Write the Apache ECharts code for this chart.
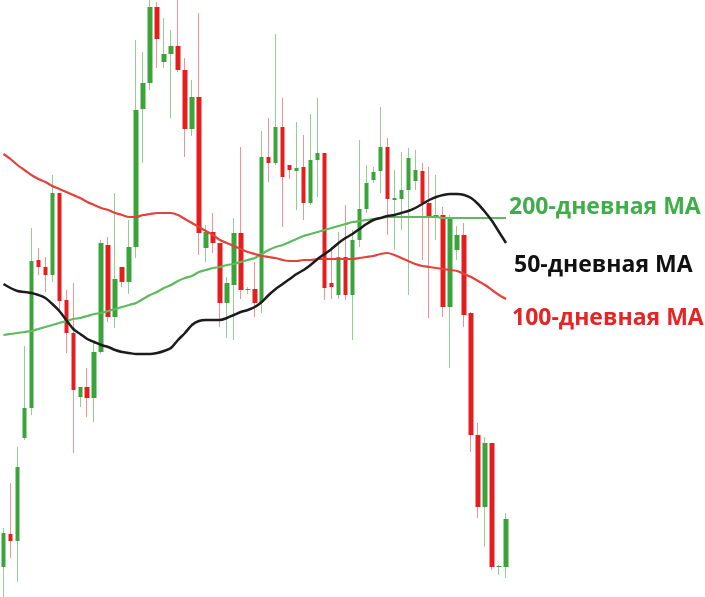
<!DOCTYPE html>
<html>
<head>
<meta charset="utf-8">
<script src="https://cdn.jsdelivr.net/npm/echarts@6/dist/echarts.min.js"></script>
<style>
html,body{margin:0;padding:0;background:#fff;}
#chart{width:705px;height:597px;}
</style>
</head>
<body>
<div id="chart"></div>
<script>
// Daily candles (price units), index = trading day
const openP  = [33,66,59,162,192,340,333,325,407,300,267,203,213,202,248,355,283,333,318,353,491,517,593,538,546,554,530,471,503,352,368,357,297,315,367,310,311,298,443,437,473,435,429,433,397,440,447,317,305,343,305,360,391,420,429,453,400,401,410,419,429,397,383,385,293,350,365,287,165,93,157,33,33];
const closeP = [67,59,133,192,339,333,325,407,299,267,210,213,202,248,357,283,321,318,353,490,517,593,561,546,554,530,471,503,367,368,357,297,317,367,310,311,297,443,437,473,423,430,432,397,440,447,312,313,343,305,360,391,417,428,453,401,402,410,442,430,397,383,385,293,381,365,285,165,93,157,33,34,81];
const highP  = [72,117,153,254,372,352,343,425,407,310,317,213,232,257,360,363,407,333,380,560,548,600,598,582,570,600,542,520,587,375,387,357,323,382,453,313,338,469,482,566,502,435,478,465,486,502,447,353,368,395,370,460,435,433,493,462,430,448,452,450,437,433,425,393,385,374,377,288,177,163,157,35,87];
const lowP   = [2,42,18,160,185,325,308,318,288,247,147,193,183,178,246,278,272,313,306,342,437,510,532,532,482,528,443,464,345,338,347,273,262,260,301,306,283,287,418,435,373,421,390,380,395,403,300,301,301,300,260,353,387,417,407,365,350,370,305,410,340,282,360,283,232,340,273,148,82,53,30,25,22];

// Moving averages at each candle
const ma50  = [316,312,309,308,307,305,302,296,289,280,271,266,261,258,255,253,250,248,247,246,246,246,247,249,252,260,267,275,279,280,280,280,282,285,288,290,293,298,305,311,316,321,326,330,335,341,346,351,357,362,366,371,376,380,382,384,385,387,389,392,396,400,403,405,406,406,405,402,396,388,379,368,357];
const ma100 = [446,441,435,430,425,421,418,414,411,408,405,402,398,395,392,390,387,385,383,383,385,386,387,387,387,385,381,377,373,369,365,360,357,354,351,348,346,344,343,342,340,339,339,340,340,341,341,341,341,341,341,342,343,344,346,347,345,342,339,336,334,333,332,331,330,329,326,323,319,315,310,305,301];
const ma200 = [265,266,267,268,269,271,273,275,277,279,281,282,284,286,287,289,291,293,295,297,301,305,308,312,315,319,322,324,328,330,332,333,335,336,338,340,342,346,350,353,355,358,361,364,366,368,370,372,374,376,378,379,380,381,382,383,383,383,383,383,383,383,383,382,382,382,382,382,382,382,382,382,382];

const categories = openP.map((_, i) => 'День ' + (i + 1));
const labels = ['200-дневная MA', '50-дневная MA', '100-дневная MA'];

const UP = '#3aa33a', DOWN = '#e41e1e';
const UP_W = '#93cf93', DOWN_W = '#f19494';

const wickData = openP.map((o, i) => [o, closeP[i], lowP[i], highP[i]]);
const bodyData = openP.map((o, i) => {
  const c = closeP[i];
  return [o, c, Math.min(o, c), Math.max(o, c)];
});

const chart = echarts.init(document.getElementById('chart'), null, {renderer: 'canvas'});
chart.setOption({
  animation: false,
  backgroundColor: '#ffffff',
  grid: {left: -1.5, top: 0, width: 511, height: 597},
  xAxis: {
    type: 'category', data: categories, boundaryGap: true,
    axisLine: {show: false}, axisTick: {show: false}, axisLabel: {show: false}, splitLine: {show: false}
  },
  yAxis: {
    type: 'value', min: 3, max: 600, scale: true,
    axisLine: {show: false}, axisTick: {show: false}, axisLabel: {show: false}, splitLine: {show: false}
  },
  series: [
    {
      type: 'candlestick', name: 'wicks', data: wickData, barWidth: 1, clip: false,
      itemStyle: {color: UP_W, color0: DOWN_W, borderColor: UP_W, borderColor0: DOWN_W, borderWidth: 1},
      z: 1
    },
    {
      type: 'candlestick', name: 'bodies', data: bodyData, barWidth: 5, clip: false,
      itemStyle: {color: UP, color0: DOWN, borderColor: UP, borderColor0: DOWN, borderWidth: 0},
      z: 2
    },
    {
      type: 'line', name: labels[0], data: ma200, symbol: 'none', smooth: 0.3, z: 3,
      lineStyle: {color: '#5dba5d', width: 2.2}
    },
    {
      type: 'line', name: labels[2], data: ma100, symbol: 'none', smooth: 0.3, z: 3,
      lineStyle: {color: '#e6403a', width: 2.2}
    },
    {
      type: 'line', name: labels[1], data: ma50, symbol: 'none', smooth: 0.3, z: 4,
      lineStyle: {color: '#1c1c1c', width: 2.5}
    }
  ],
  graphic: [
    {type: 'text', left: 509, top: 196, style: {text: labels[0], fill: '#3fae48', font: 'bold 23px "Open Sans", sans-serif'}},
    {type: 'text', left: 514, top: 254, style: {text: labels[1], fill: '#111111', font: 'bold 23px "Open Sans", sans-serif'}},
    {type: 'text', left: 512, top: 307, style: {text: labels[2], fill: '#e52424', font: 'bold 23px "Open Sans", sans-serif'}}
  ]
});
</script>
</body>
</html>
